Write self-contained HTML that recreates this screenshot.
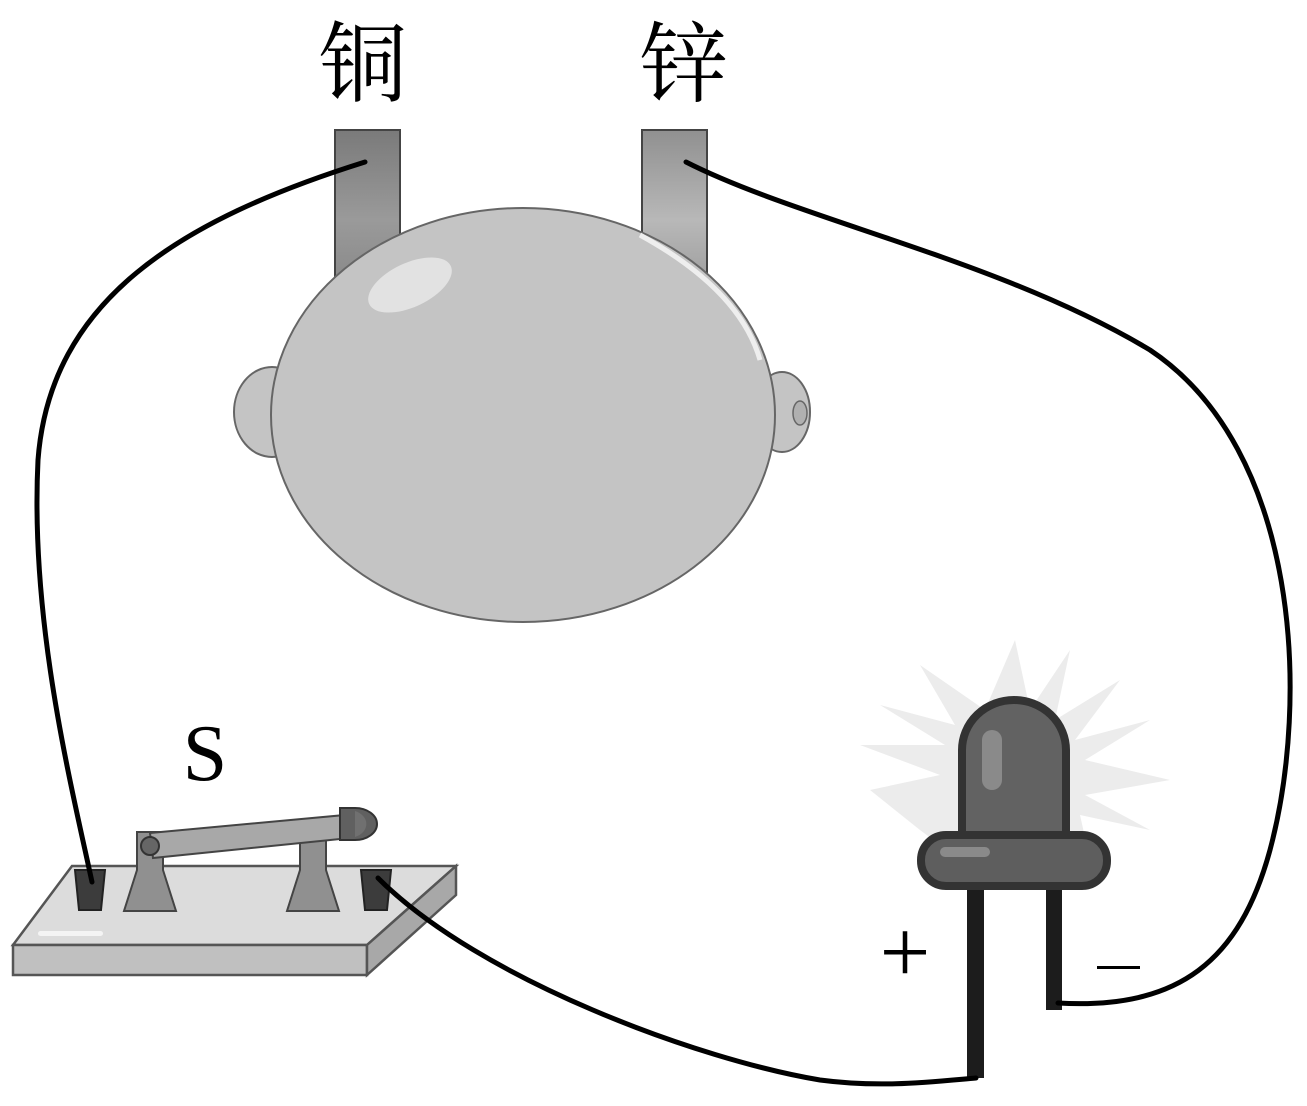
<!DOCTYPE html><html><head><style>body{margin:0;background:#fff}svg{display:block}</style></head><body>
<svg width="1307" height="1106" viewBox="0 0 1307 1106" xmlns="http://www.w3.org/2000/svg">
<defs><linearGradient id="el" x1="0" y1="0" x2="0" y2="1"><stop offset="0" stop-color="#7a7a7a"/><stop offset="0.6" stop-color="#9a9a9a"/><stop offset="1" stop-color="#8a8a8a"/></linearGradient>
<linearGradient id="el2" x1="0" y1="0" x2="0" y2="1"><stop offset="0" stop-color="#909090"/><stop offset="0.6" stop-color="#b8b8b8"/><stop offset="1" stop-color="#a0a0a0"/></linearGradient></defs>
<text x="363" y="95" font-size="88" text-anchor="middle" font-family="'Liberation Serif','Noto Serif CJK SC',serif">铜</text>
<text x="684" y="95" font-size="88" text-anchor="middle" font-family="'Liberation Serif','Noto Serif CJK SC',serif">锌</text>
<rect x="335" y="130" width="65" height="150" fill="url(#el)" stroke="#444" stroke-width="2"/>
<rect x="642" y="130" width="65" height="150" fill="url(#el2)" stroke="#444" stroke-width="2"/>
<!-- lemon -->
<ellipse cx="272" cy="412" rx="38" ry="45" fill="#c4c4c4" stroke="#666" stroke-width="2"/>
<ellipse cx="782" cy="412" rx="28" ry="40" fill="#c4c4c4" stroke="#666" stroke-width="2"/>
<ellipse cx="800" cy="413" rx="7" ry="12" fill="#b0b0b0" stroke="#666" stroke-width="1.5"/>
<ellipse cx="523" cy="415" rx="252" ry="207" fill="#c4c4c4" stroke="#666" stroke-width="2"/>
<ellipse cx="410" cy="285" rx="45" ry="22" transform="rotate(-25 410 285)" fill="#e2e2e2"/>
<path d="M640 235 Q740 290 760 360" fill="none" stroke="#eee" stroke-width="5"/>
<!-- glow -->
<polygon fill="#ececec" points="1015,640 1030,710 1070,650 1055,720 1120,680 1075,740 1150,720 1085,760 1170,780 1085,795 1150,830 1080,815 1090,860 960,860 920,830 870,790 940,775 860,745 945,745 880,705 955,725 920,665 985,710" />
<!-- LED -->
<rect x="967" y="880" width="17" height="198" fill="#1c1c1c"/>
<rect x="1046" y="880" width="16" height="130" fill="#1c1c1c"/>
<path d="M962 845 V750 A52 50 0 0 1 1066 750 V845 Z" fill="#626262" stroke="#333" stroke-width="8"/>
<rect x="982" y="730" width="20" height="60" rx="10" fill="#8a8a8a"/>
<rect x="921" y="835" width="186" height="51" rx="25" fill="#5e5e5e" stroke="#333" stroke-width="8"/>
<rect x="940" y="847" width="50" height="10" rx="5" fill="#8a8a8a"/>
<text x="905" y="982" font-size="90" text-anchor="middle" font-family="'Liberation Serif',serif">+</text>
<rect x="1097" y="966" width="43" height="3" fill="#000"/>
<text x="205" y="780" font-size="80" text-anchor="middle" font-family="'Liberation Serif',serif">S</text>
<!-- switch -->
<polygon points="13,945 72,866 456,866 367,945" fill="#dcdcdc" stroke="#555" stroke-width="2.5"/>
<rect x="13" y="945" width="354" height="30" fill="#c0c0c0" stroke="#555" stroke-width="2.5"/>
<polygon points="367,945 456,866 456,895 367,975" fill="#a8a8a8" stroke="#555" stroke-width="2.5"/>
<rect x="38" y="931" width="65" height="5" rx="2.5" fill="#f4f4f4"/>
<path d="M75 870 h30 l-4 40 h-22z" fill="#3c3c3c" stroke="#222" stroke-width="2"/>
<path d="M361 870 h30 l-4 40 h-22z" fill="#3c3c3c" stroke="#222" stroke-width="2"/>
<path d="M137 832 h26 v38 l13 41 h-52 l13 -41z" fill="#909090" stroke="#444" stroke-width="2"/>
<path d="M300 832 h26 v38 l13 41 h-52 l13 -41z" fill="#909090" stroke="#444" stroke-width="2"/>
<polygon points="150,833 345,815 350,838 153,858" fill="#a8a8a8" stroke="#444" stroke-width="2"/>
<circle cx="150" cy="846" r="9" fill="#666" stroke="#333" stroke-width="2"/>
<path d="M340 808 h15 a22 16 0 0 1 0 32 h-15z" fill="#606060" stroke="#333" stroke-width="2"/>
<path d="M355 811 a18 14 0 0 1 0 26z" fill="#707070"/>
<!-- wires -->
<g fill="none" stroke="#000" stroke-width="5" stroke-linecap="round">
<path d="M365 162 C 180 220 50 300 38 460 C 30 620 70 780 92 882"/>
<path d="M686 162 C 800 220 1000 260 1150 350 C 1300 450 1310 700 1270 850 C 1240 960 1180 1010 1058 1003"/>
<path d="M378 878 C 480 980 700 1060 820 1080 C 880 1088 930 1082 976 1078"/>
</g>
</svg></body></html>
